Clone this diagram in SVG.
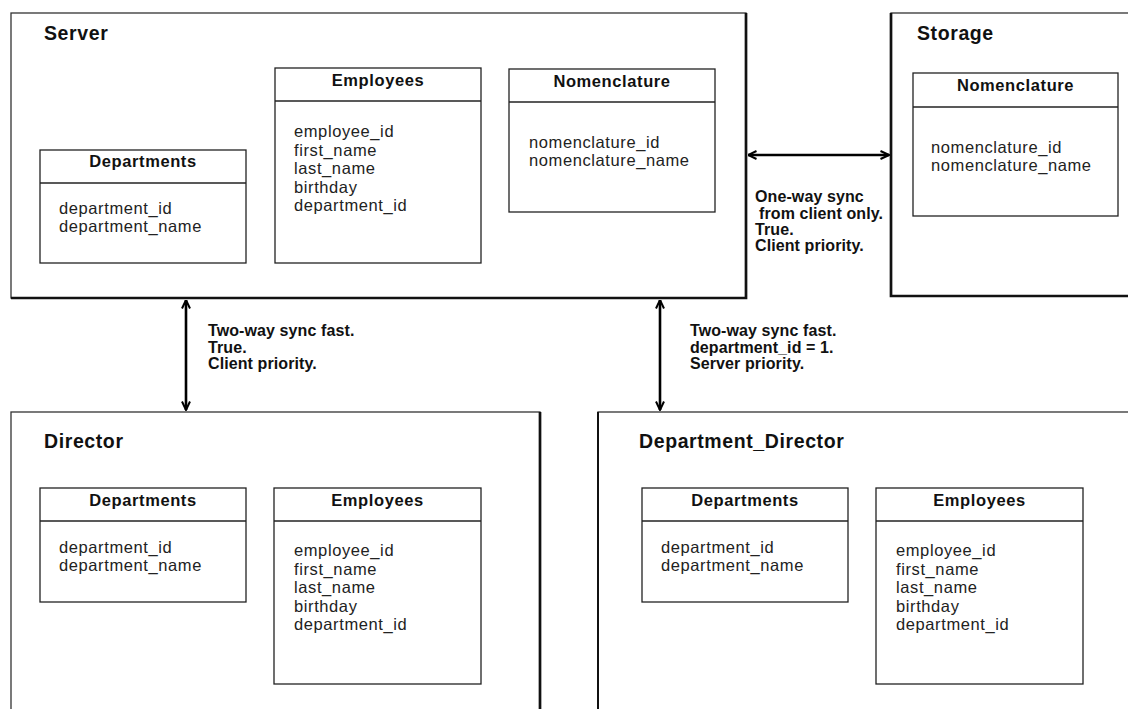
<svg xmlns="http://www.w3.org/2000/svg" width="1128" height="709" viewBox="0 0 1128 709">
<style>
.bg{fill:#fff}
.outer{fill:#fff;stroke:#333;stroke-width:1.3}
.thick{stroke:#111;stroke-width:2.7;fill:none}
.tbl{fill:#fff;stroke:#222;stroke-width:1.3}
.sep{stroke:#222;stroke-width:1.3}
.title{font-family:"Liberation Sans",Arial,sans-serif;font-weight:bold;font-size:19.5px;letter-spacing:0.6px;fill:#111}
.hdr{font-family:"Liberation Sans",Arial,sans-serif;font-weight:bold;font-size:16.5px;letter-spacing:0.6px;fill:#111;text-anchor:middle}
.fld{font-family:"Liberation Sans",Arial,sans-serif;font-size:16.5px;letter-spacing:0.6px;fill:#222}
.lbl{font-family:"Liberation Sans",Arial,sans-serif;font-weight:bold;font-size:16px;letter-spacing:0.1px;fill:#111}
.conn{stroke:#000;stroke-width:2.6;fill:none;marker-start:url(#ah);marker-end:url(#ah)}
</style>
<defs>
<marker id="ah" viewBox="0 0 10 10" refX="9.5" refY="5" markerWidth="10" markerHeight="10" markerUnits="userSpaceOnUse" orient="auto-start-reverse">
<path d="M1,1 L9.5,5 L1,9" fill="none" stroke="#000" stroke-width="2"/>
</marker>
</defs>
<rect class="bg" x="0" y="0" width="1128" height="709"/>

<g id="server">
<rect class="outer" x="11" y="13" width="735" height="285"/>
<path class="thick" d="M746,13 V298 H11"/>
<text class="title" x="44" y="40">Server</text>
<g id="server-departments">
<rect class="tbl" x="40" y="150" width="206" height="113"/>
<line class="sep" x1="40" y1="183" x2="246" y2="183"/>
<text class="hdr" x="143" y="167">Departments</text>
<text class="fld" x="59" y="214">department_id</text>
<text class="fld" x="59" y="232">department_name</text>
</g>
<g id="server-employees">
<rect class="tbl" x="275" y="68" width="206" height="195"/>
<line class="sep" x1="275" y1="101" x2="481" y2="101"/>
<text class="hdr" x="378" y="86">Employees</text>
<text class="fld" x="294" y="137">employee_id</text>
<text class="fld" x="294" y="155.5">first_name</text>
<text class="fld" x="294" y="174">last_name</text>
<text class="fld" x="294" y="192.5">birthday</text>
<text class="fld" x="294" y="211">department_id</text>
</g>
<g id="server-nomenclature">
<rect class="tbl" x="509" y="69" width="206" height="143"/>
<line class="sep" x1="509" y1="102" x2="715" y2="102"/>
<text class="hdr" x="612" y="87">Nomenclature</text>
<text class="fld" x="529" y="148">nomenclature_id</text>
<text class="fld" x="529" y="166">nomenclature_name</text>
</g>
</g>

<g id="storage">
<rect class="outer" x="891" y="13" width="250" height="283"/>
<path class="thick" d="M891,13 V296 H1141"/>
<text class="title" x="917" y="40">Storage</text>
<g id="storage-nomenclature">
<rect class="tbl" x="913" y="73" width="205" height="143"/>
<line class="sep" x1="913" y1="107" x2="1118" y2="107"/>
<text class="hdr" x="1015.5" y="91">Nomenclature</text>
<text class="fld" x="931" y="153">nomenclature_id</text>
<text class="fld" x="931" y="171">nomenclature_name</text>
</g>
</g>

<g id="director">
<rect class="outer" x="11" y="412" width="529" height="310"/>
<path class="thick" d="M540,412 V722"/>
<text class="title" x="44" y="448">Director</text>
<g id="director-departments">
<rect class="tbl" x="40" y="488" width="206" height="114"/>
<line class="sep" x1="40" y1="521" x2="246" y2="521"/>
<text class="hdr" x="143" y="506">Departments</text>
<text class="fld" x="59" y="553">department_id</text>
<text class="fld" x="59" y="571">department_name</text>
</g>
<g id="director-employees">
<rect class="tbl" x="274" y="488" width="207" height="196"/>
<line class="sep" x1="274" y1="521" x2="481" y2="521"/>
<text class="hdr" x="377.5" y="506">Employees</text>
<text class="fld" x="294" y="556">employee_id</text>
<text class="fld" x="294" y="574.5">first_name</text>
<text class="fld" x="294" y="593">last_name</text>
<text class="fld" x="294" y="611.5">birthday</text>
<text class="fld" x="294" y="630">department_id</text>
</g>
</g>

<g id="department-director">
<rect class="outer" x="598" y="412" width="545" height="310"/>
<path d="M598,412 V722" stroke="#111" stroke-width="2" fill="none"/>
<text class="title" x="639" y="448">Department_Director</text>
<g id="dd-departments">
<rect class="tbl" x="642" y="488" width="206" height="114"/>
<line class="sep" x1="642" y1="521" x2="848" y2="521"/>
<text class="hdr" x="745" y="506">Departments</text>
<text class="fld" x="661" y="553">department_id</text>
<text class="fld" x="661" y="571">department_name</text>
</g>
<g id="dd-employees">
<rect class="tbl" x="876" y="488" width="207" height="196"/>
<line class="sep" x1="876" y1="521" x2="1083" y2="521"/>
<text class="hdr" x="979.5" y="506">Employees</text>
<text class="fld" x="896" y="556">employee_id</text>
<text class="fld" x="896" y="574.5">first_name</text>
<text class="fld" x="896" y="593">last_name</text>
<text class="fld" x="896" y="611.5">birthday</text>
<text class="fld" x="896" y="630">department_id</text>
</g>
</g>

<g id="connectors">
<line class="conn" x1="186" y1="300" x2="186" y2="410"/>
<line class="conn" x1="660" y1="300" x2="660" y2="410"/>
<line class="conn" x1="748" y1="155" x2="889" y2="155"/>
<g id="label-server-director">
<text class="lbl" x="208" y="336">Two-way sync fast.</text>
<text class="lbl" x="208" y="352.5">True.</text>
<text class="lbl" x="208" y="369">Client priority.</text>
</g>
<g id="label-server-dd">
<text class="lbl" x="690" y="336">Two-way sync fast.</text>
<text class="lbl" x="690" y="352.5">department_id = 1.</text>
<text class="lbl" x="690" y="369">Server priority.</text>
</g>
<g id="label-server-storage">
<text class="lbl" x="755" y="202">One-way sync</text>
<text class="lbl" x="759" y="218.5">from client only.</text>
<text class="lbl" x="755" y="235">True.</text>
<text class="lbl" x="755" y="251">Client priority.</text>
</g>
</g>
</svg>
